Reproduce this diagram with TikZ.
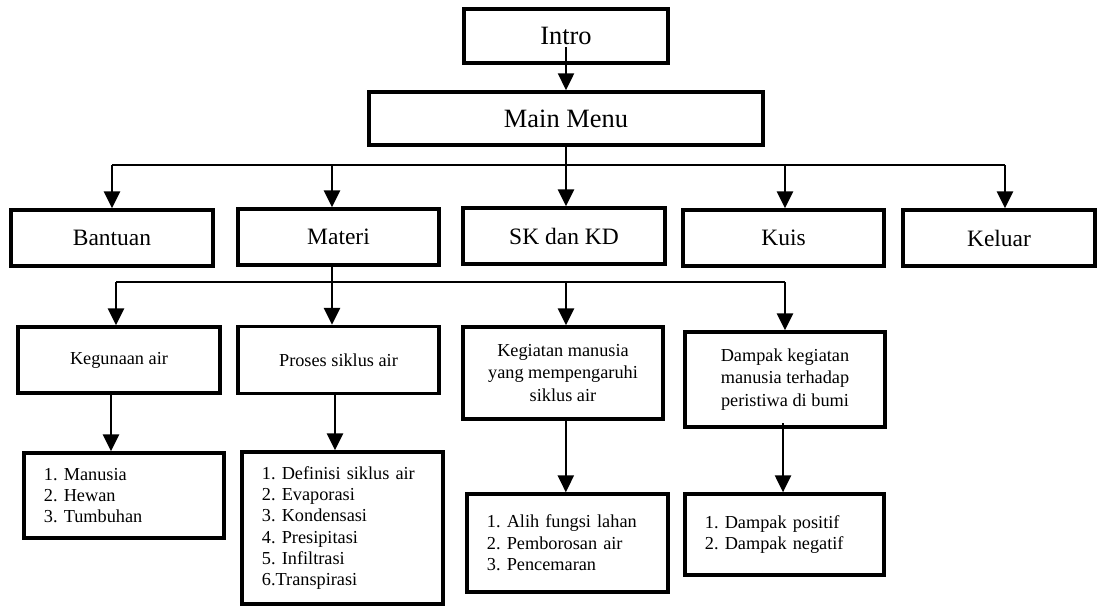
\documentclass[tikz,border=0pt]{standalone}
\usepackage{fontspec}
\setmainfont{Liberation Serif}
\usepackage{tikz}
\usetikzlibrary{arrows.meta}
\frenchspacing
\newcommand{\bigfont}{\fontsize{18.8}{22}\selectfont}
\newcommand{\midfont}{\fontsize{16.7}{20}\selectfont}
\newcommand{\smallfont}{\fontsize{13}{16}\selectfont}
\newcommand{\listfont}{\fontsize{13}{15.2}\selectfont}
\tikzset{box/.style={draw, line width=2.5pt, inner sep=0pt, align=center}}
\tikzset{listbox/.style={draw, line width=2.5pt, inner xsep=0.5cm, inner ysep=0pt, align=left, font=\listfont}}

\begin{document}
\begin{tikzpicture}[>={Triangle[width=11.5pt,length=12pt]}, line width=1.4pt, x=0.025cm, y=-0.025cm]
\useasboundingbox (0,0) rectangle (1103,606);
% top
\node[box, minimum width=5.1cm, minimum height=1.35cm, font=\bigfont] (m0) at (566,36) {Intro};
\node[box, minimum width=9.85cm, minimum height=1.33cm, font=\bigfont] (m1) at (566,118.5) {Main Menu};
% menu row
\node[box, minimum width=5.05cm, minimum height=1.4cm, font=\midfont] (k1) at (112,238) {Bantuan};
\node[box, minimum width=5.025cm, minimum height=1.4cm, font=\midfont] (k2) at (338.5,237) {Materi};
\node[box, minimum width=5.05cm, minimum height=1.4cm, font=\midfont] (k3) at (564,236) {SK dan KD};
\node[box, minimum width=5.025cm, minimum height=1.4cm, font=\midfont] (k4) at (783.5,238) {Kuis};
\node[box, minimum width=4.8cm, minimum height=1.4cm, font=\midfont] (k5) at (999,238) {Keluar};
% materi row
\node[box, minimum width=5.05cm, minimum height=1.65cm, font=\smallfont] (s1) at (119,360) {Kegunaan air};
\node[box, minimum width=5.025cm, minimum height=1.675cm, font=\smallfont] (s2) at (338.5,360) {Proses siklus air};
\node[box, minimum width=5cm, minimum height=2.3cm, font=\smallfont] (s3) at (563,373) {Kegiatan manusia\\yang mempengaruhi\\siklus air};
\node[box, minimum width=5cm, minimum height=2.375cm, font=\smallfont] (s4) at (785,379.5) {Dampak kegiatan\\manusia terhadap\\peristiwa di bumi};
% sub lists
\node[listbox, text width=4cm, minimum height=2.125cm] (d1) at (124,495.5) {1. Manusia\\2. Hewan\\3. Tumbuhan};
\node[listbox, text width=4.025cm, minimum height=3.8cm] (d2) at (342.5,528) {1. Definisi siklus air\\2. Evaporasi\\3. Kondensasi\\4. Presipitasi\\5. Infiltrasi\\6.Transpirasi};
\node[listbox, text width=4.025cm, minimum height=2.45cm] (d3) at (567.5,543) {1. Alih fungsi lahan\\2. Pemborosan air\\3. Pencemaran};
\node[listbox, text width=3.975cm, minimum height=2.025cm] (d4) at (784.5,534.5) {1. Dampak positif\\2. Dampak negatif};
% junctions
\coordinate (a1) at (112,165);
\coordinate (a2) at (332,165);
\coordinate (a3) at (566,165);
\coordinate (a4) at (785,165);
\coordinate (a5) at (1005,165);
\coordinate (b1) at (116,282);
\coordinate (b2) at (332,282);
\coordinate (b3) at (566,282);
\coordinate (b4) at (785,282);
% connectors
\draw[->] ([yshift=-8pt]m0.center) -- (m0.center |- m1.north);
\draw (m1.south) -- (a3);
\draw (a1) -- (a5);
\foreach \j/\k in {a1/k1, a2/k2, a3/k3, a4/k4, a5/k5}
  \draw[->] (\j) -- (\j |- \k.north);
\draw (k2.south -| b2) -- (b2);
\draw (b1) -- (b4);
\foreach \j/\k in {b1/s1, b2/s2, b3/s3, b4/s4}
  \draw[->] (\j) -- (\j |- \k.north);
\draw[->] ([xshift=-5.7pt]s1.south) -- ([xshift=-5.7pt]s1.south |- d1.north);
\draw[->] ([xshift=-2.5pt]s2.south) -- ([xshift=-2.5pt]s2.south |- d2.north);
\draw[->] ([xshift=2pt]s3.south) -- ([xshift=2pt]s3.south |- d3.north);
\draw[->] ([xshift=-1.4pt,yshift=4pt]s4.south) -- ([xshift=-1.4pt]s4.south |- d4.north);
\end{tikzpicture}
\end{document}
